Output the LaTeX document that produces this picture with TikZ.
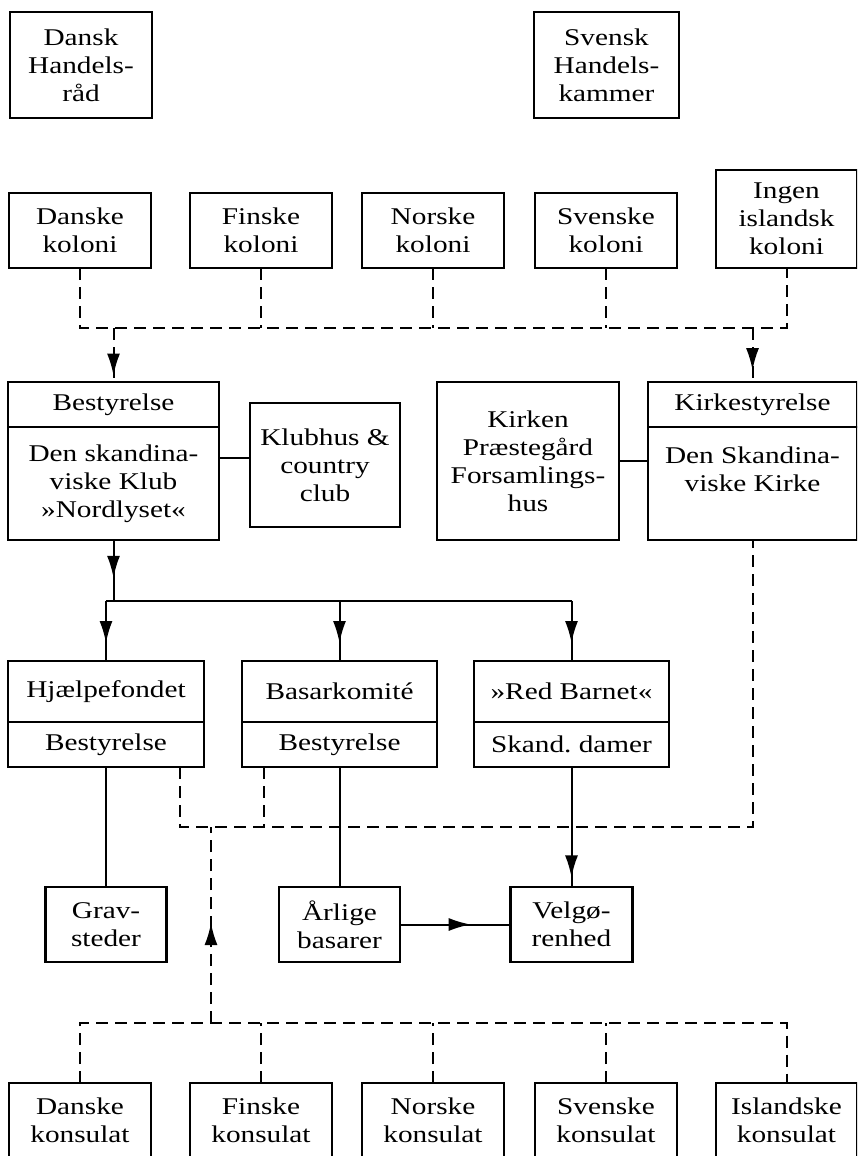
\documentclass[tikz,border=0pt]{standalone}
\usepackage{fontspec}
\setmainfont{Liberation Serif}[FakeStretch=1.22]
\usepackage{tikz}
\usetikzlibrary{positioning, arrows.meta, decorations.markings}
\tikzset{
  tbox/.style = {draw=black, rectangle, line width=2.6pt, align=center, inner sep=0pt, outer sep=0pt, font=\fontsize{24pt}{28pt}\selectfont},
  cbox/.style = {tbox, minimum width=142pt, minimum height=75pt},
  hbox/.style = {tbox, minimum height=45pt},
  conn/.style = {line width=2pt},
  dconn/.style = {conn, dash pattern=on 12pt off 7pt},
  midarrow/.style = {postaction={decorate}, decoration={markings, mark=at position #1 with {\arrow{Latex[length=22pt, width=13pt]}}}},
}
\begin{document}
\begin{tikzpicture}[x=1pt, y=-1pt]
\clip (0,0) rectangle (857,1156);
\node [tbox, minimum width=142pt, minimum height=106pt] (DH) at (81,65) {Dansk\\Handels-\\råd};
\node [tbox, minimum width=145pt, minimum height=106pt] (SH) at (606.5,65) {Svensk\\Handels-\\kammer};

\node [cbox] (K1) at (80,230.5) {Danske\\koloni};
\node [cbox] (K2) at (261,230.5) {Finske\\koloni};
\node [cbox] (K3) at (433,230.5) {Norske\\koloni};
\node [cbox] (K4) at (606,230.5) {Svenske\\koloni};
\node [cbox, minimum width=141pt, minimum height=98pt] (K5) at (786.5,219) {Ingen\\islandsk\\koloni};
\coordinate (KL) at (0,328);
\draw[dconn] (K1.south) |- (K5.south |- KL) -- (K5.south);
\draw[dconn] (K2.south) -- (K2.south |- KL);
\draw[dconn] (K3.south) -- (K3.south |- KL);
\draw[dconn] (K4.south) -- (K4.south |- KL);

\node [hbox, minimum width=211pt] (B1) at (113.5,404.5) {Bestyrelse};
\node [tbox, minimum width=211pt, minimum height=113pt, below=0pt of B1] (B2) {Den skandina-\\viske Klub\\»Nordlyset«};
\node [tbox, minimum width=150pt, minimum height=124pt] (KH) at (325,465) {Klubhus \&\\country\\club};
\node [tbox, minimum width=182pt, minimum height=158pt] (KP) at (528,461) {Kirken\\Præstegård\\Forsamlings-\\hus};
\node [hbox, minimum width=209pt] (KS1) at (752.5,404.5) {Kirkestyrelse};
\node [tbox, minimum width=209pt, minimum height=113pt, below=0pt of KS1] (KS2) {Den Skandina-\\viske Kirke\\~};
\draw[dconn, midarrow=0.88] (B1.north |- KL) -- (B1.north);
\draw[dconn, midarrow=0.78] (KS1.north |- KL) -- (KS1.north);
\draw[conn] (B2.east |- 0,458) -- (KH.west |- 0,458);
\draw[conn] (KP.east) -- (KS2.west |- KP.east);

\node [hbox, minimum width=196pt, minimum height=61pt] (HF1) at (106,691.5) {Hjælpefondet};
\node [hbox, minimum width=196pt, below=0pt of HF1] (HF2) {Bestyrelse};
\node [hbox, minimum width=195pt, minimum height=61pt] (BK1) at (339.5,691.5) {Basarkomité};
\node [hbox, minimum width=195pt, below=0pt of BK1] (BK2) {Bestyrelse};
\node [hbox, minimum width=195pt, minimum height=61pt] (RB1) at (571.5,691.5) {»Red Barnet«};
\node [hbox, minimum width=195pt, below=0pt of RB1] (RB2) {Skand.\ damer};
\coordinate (J) at (113.5,601);
\draw[conn, midarrow=0.62] (B2.south) -- (B2.south |- J);
\draw[conn] (HF1.north |- J) -- (RB1.north |- J);
\draw[conn, midarrow=0.7] (HF1.north |- J) -- (HF1.north);
\draw[conn, midarrow=0.7] (BK1.north |- J) -- (BK1.north);
\draw[conn, midarrow=0.7] (RB1.north |- J) -- (RB1.north);

\node [cbox, minimum width=121pt] (G) at (106,924.5) {Grav-\\steder};
\node [cbox, minimum width=121pt] (A) at (339.5,924.5) {Årlige\\basarer};
\node [cbox, minimum width=122pt] (V) at (571.5,924.5) {Velgø-\\renhed};
\draw[conn] (HF2.south) -- (G.north);
\draw[conn] (BK2.south) -- (A.north);
\draw[conn, midarrow=0.92] (RB2.south) -- (V.north);
\draw[conn, midarrow=0.64] (A.east) -- (V.west);
\coordinate (L) at (0,827);
\draw[dconn] (HF2.south -| 180,0) |- (KS2.south |- L) -- (KS2.south);
\draw[dconn] (BK2.south -| 264,0) -- (L -| 264,0);

\node [cbox] (C1) at (80,1120.5) {Danske\\konsulat};
\node [cbox] (C2) at (261,1120.5) {Finske\\konsulat};
\node [cbox] (C3) at (433,1120.5) {Norske\\konsulat};
\node [cbox] (C4) at (606,1120.5) {Svenske\\konsulat};
\node [cbox, minimum width=141pt] (C5) at (786.5,1120.5) {Islandske\\konsulat};
\coordinate (CL) at (0,1023);
\draw[dconn] (C1.north) |- (C5.north |- CL) -- (C5.north);
\draw[dconn] (C2.north) -- (C2.north |- CL);
\draw[dconn] (C3.north) -- (C3.north |- CL);
\draw[dconn] (C4.north) -- (C4.north |- CL);
\draw[dconn, midarrow=0.51] (CL -| 211,0) -- (L -| 211,0);
\end{tikzpicture}
\end{document}
